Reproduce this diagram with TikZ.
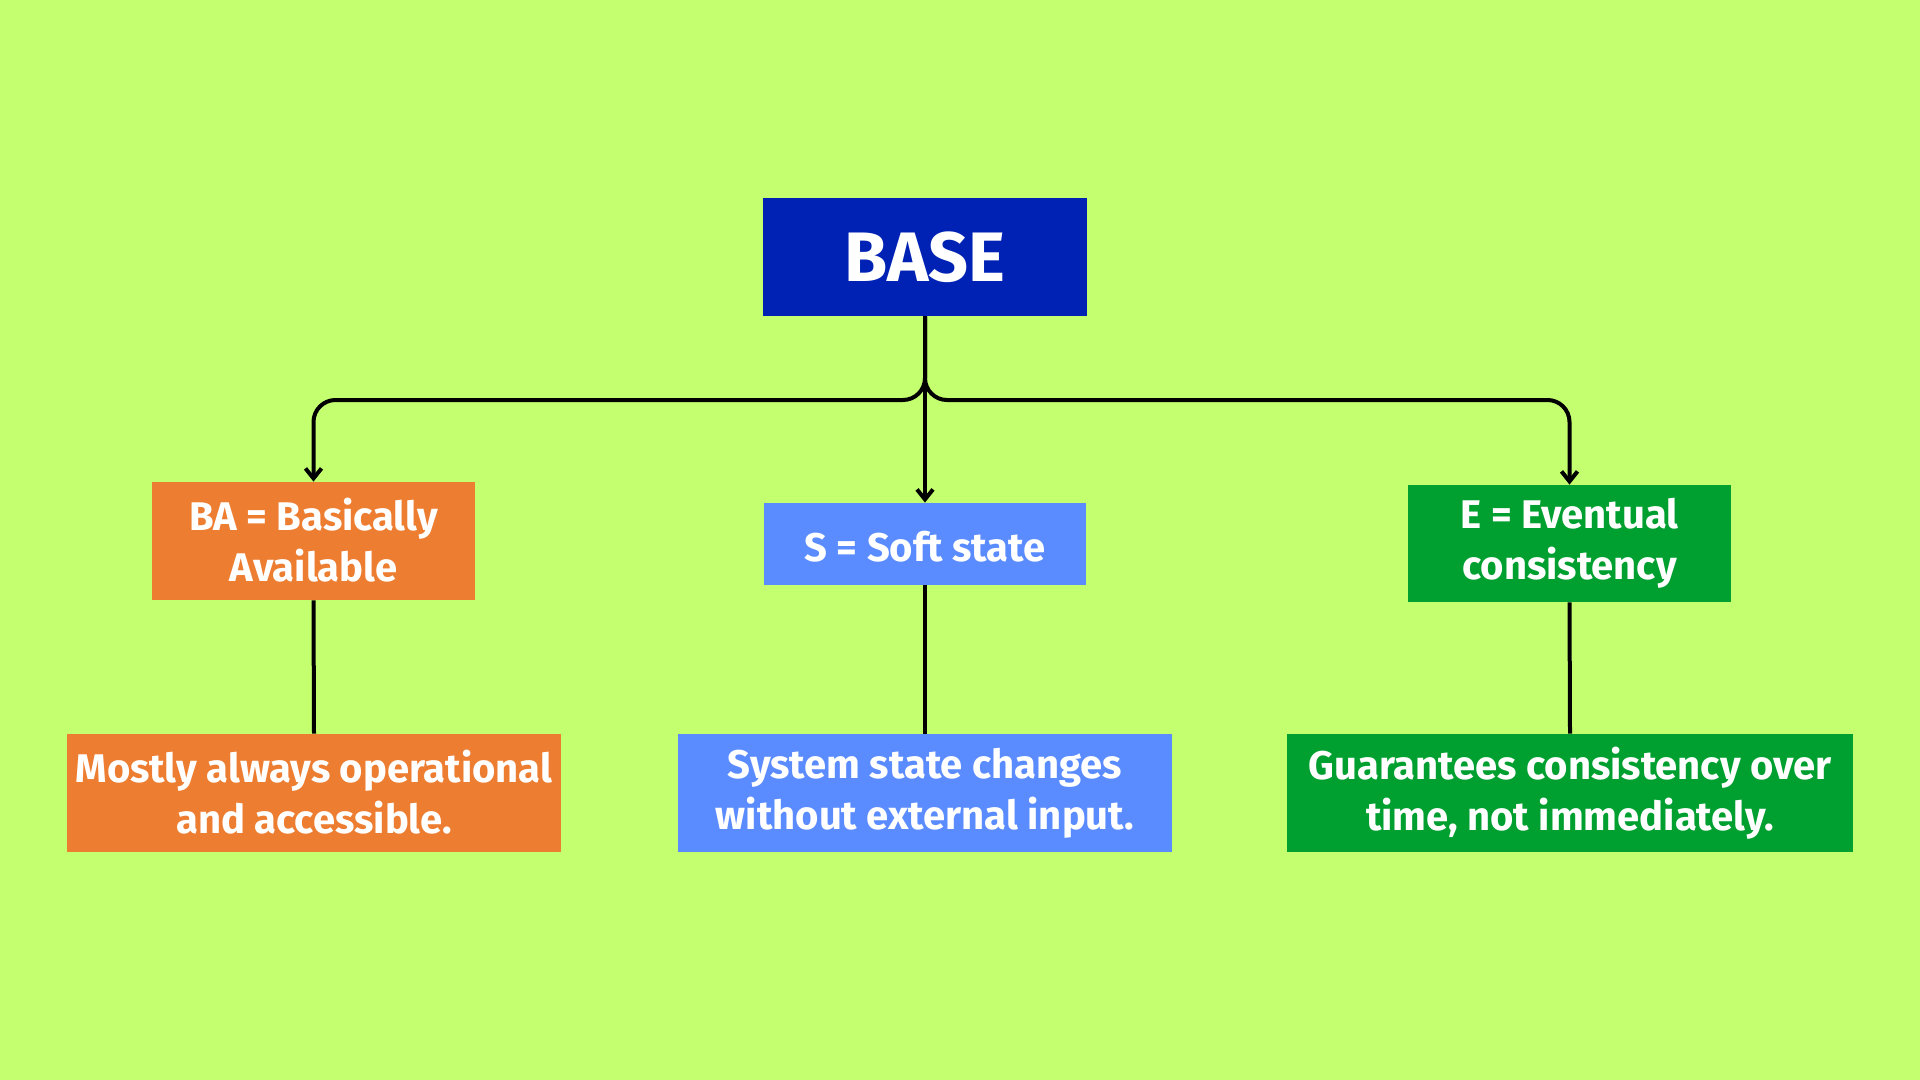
\documentclass[tikz,border=0pt]{standalone}
\usepackage{fontspec}
\setmainfont{Fira Sans}
\usetikzlibrary{arrows.meta}
\definecolor{bg}{RGB}{196,255,112}
\definecolor{basec}{RGB}{0,34,180}
\definecolor{orangec}{RGB}{237,125,49}
\definecolor{bluec}{RGB}{91,140,255}
\definecolor{greenc}{RGB}{0,160,48}
\newcommand\mystrut{\rule[-1.5pt]{0pt}{20pt}}
\tikzset{
  box/.style={rectangle, inner sep=0pt, text=white, align=center,
    font=\fontsize{20}{25.5}\selectfont\bfseries},
  txtbox/.style={box, execute at begin node=\mystrut, execute at end node=\mystrut},
  conn/.style={line width=2pt, black, rounded corners=11pt},
  arr/.style={conn, -{Straight Barb[length=5pt,width=8pt]}},
}
\begin{document}
\begin{tikzpicture}[x=0.5pt,y=-0.5pt]
\fill[bg] (0,0) rectangle (1920,1080);
\useasboundingbox (0,0) rectangle (1920,1080);
\node[box, fill=basec, minimum width=162pt, minimum height=59pt, text depth=0pt,
  font=\fontsize{35}{38}\selectfont\bfseries] (base) at (925,257) {BASE};
\node[txtbox, fill=orangec, minimum width=161.5pt, minimum height=59pt] (ba) at (313.5,541) {BA = Basically\\Available};
\node[txtbox, fill=bluec, minimum width=161pt, minimum height=41pt] (s) at (925,544) {S = Soft state};
\node[txtbox, fill=greenc, minimum width=161.5pt, minimum height=58.5pt] (e) at (1569.5,543.5) {E = Eventual\\consistency};
\node[txtbox, fill=orangec, minimum width=247pt, minimum height=59pt] (bl) at (314,793) {Mostly always operational\\and accessible.};
\node[txtbox, fill=bluec, minimum width=247pt, minimum height=59pt] (bm) at (925,793) {System state changes\\without external input.};
\node[txtbox, fill=greenc, minimum width=283pt, minimum height=59pt] (br) at (1570,793) {Guarantees consistency over\\time, not immediately.};
\coordinate (jl) at (ba.north |- 0,400);
\coordinate (jr) at (e.north |- 0,400);
\draw[arr] (base.south) |- (jl) -- (ba.north);
\draw[arr] (base.south) |- (jr) -- (e.north);
\draw[arr] (base.south) -- (s.north);
\draw[conn] (ba.south) -- (bl.north);
\draw[conn] (s.south) -- (bm.north);
\draw[conn] (e.south) -- (br.north);
\end{tikzpicture}
\end{document}
